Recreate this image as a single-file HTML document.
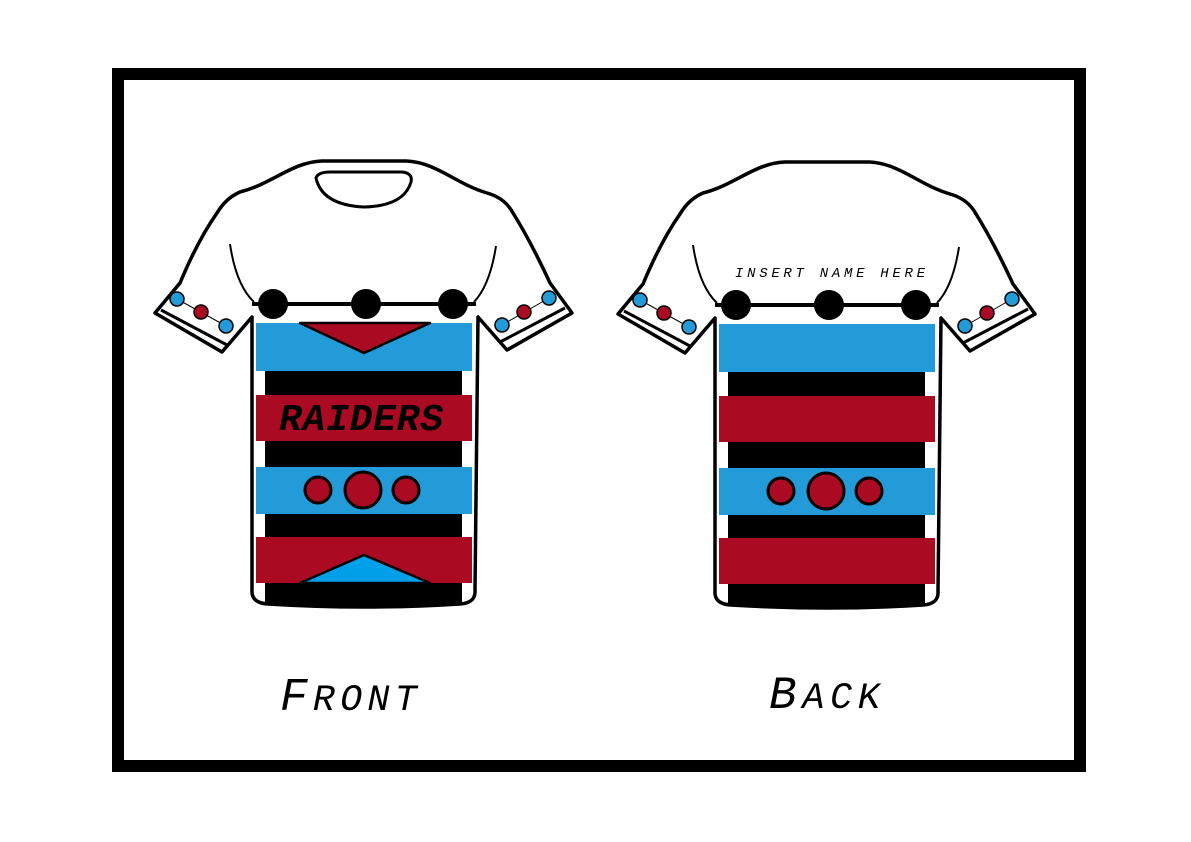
<!DOCTYPE html>
<html><head><meta charset="utf-8"><style>
html,body{margin:0;padding:0;background:#fff;}
svg{display:block;}
</style></head><body>
<svg width="1191" height="842" viewBox="0 0 1191 842" xmlns="http://www.w3.org/2000/svg">
<rect x="0" y="0" width="1191" height="842" fill="#fff"/>
<rect x="118" y="74" width="962" height="692" fill="none" stroke="#000" stroke-width="12"/>

<defs>
<g id="shirtbase">
  <path d="M240 192 C272 184 292 162 322 161 L406 161 C436 162 456 184 487 193 Q505 198 513 213 Q530 240 550 283 L572 313 L507 350 L478 317 L475 590 Q476 603 460 604 Q364 610 268 604 Q251 603 252 590 L252 317 L222 352 L155 313 L180 283 Q198 240 217 213 Q226 198 240 192 Z" fill="#fff" stroke="#000" stroke-width="3.5" stroke-linejoin="round"/>
  <path d="M230 244 Q236 285 254 302" fill="none" stroke="#000" stroke-width="2"/>
  <path d="M496 246 Q490 285 474 302" fill="none" stroke="#000" stroke-width="2"/>
  <line x1="161" y1="310" x2="227" y2="345" stroke="#000" stroke-width="3"/>
  <line x1="565" y1="308" x2="500" y2="342" stroke="#000" stroke-width="3"/>
  <line x1="177" y1="299" x2="226" y2="326" stroke="#000" stroke-width="1"/>
  <line x1="549" y1="298" x2="502" y2="325" stroke="#000" stroke-width="1"/>
  <circle cx="177" cy="299" r="7" fill="#239bd8" stroke="#000" stroke-width="1.5"/>
  <circle cx="201" cy="312" r="7" fill="#aa0a22" stroke="#000" stroke-width="1.5"/>
  <circle cx="226" cy="326" r="7" fill="#239bd8" stroke="#000" stroke-width="1.5"/>
  <circle cx="549" cy="298" r="7" fill="#239bd8" stroke="#000" stroke-width="1.5"/>
  <circle cx="524" cy="312" r="7" fill="#aa0a22" stroke="#000" stroke-width="1.5"/>
  <circle cx="502" cy="325" r="7" fill="#239bd8" stroke="#000" stroke-width="1.5"/>
  <rect x="256" y="323" width="216" height="48" fill="#239bd8"/>
  <rect x="265" y="371" width="197" height="24" fill="#000"/>
  <rect x="256" y="395" width="216" height="46" fill="#aa0a22"/>
  <rect x="265" y="441" width="197" height="26" fill="#000"/>
  <rect x="256" y="467" width="216" height="47" fill="#239bd8"/>
  <rect x="265" y="514" width="197" height="23" fill="#000"/>
  <rect x="256" y="537" width="216" height="46" fill="#aa0a22"/>
  <path d="M265 583 L462 583 L462 604 Q364 609 265 604 Z" fill="#000"/>
  <line x1="252" y1="304" x2="476" y2="304" stroke="#000" stroke-width="4"/>
  <circle cx="273" cy="304" r="15" fill="#000"/>
  <circle cx="366" cy="304" r="15" fill="#000"/>
  <circle cx="453" cy="304" r="15" fill="#000"/>
  <circle cx="318" cy="490" r="13" fill="#aa0a22" stroke="#000" stroke-width="3"/>
  <circle cx="363" cy="490" r="18" fill="#aa0a22" stroke="#000" stroke-width="3"/>
  <circle cx="406" cy="490" r="13" fill="#aa0a22" stroke="#000" stroke-width="3"/>
</g>
</defs>

<use href="#shirtbase"/>
<path d="M316 178 Q318 172 330 172 L402 172 Q413 173 411 182 Q404 206 364 207 Q322 205 316 178 Z" fill="#fff" stroke="#000" stroke-width="3"/>
<path d="M300 323 L430 323 L364 353 Z" fill="#aa0a22" stroke="#000" stroke-width="2.5" stroke-linejoin="round"/>
<path d="M300 583 L430 583 L364 555 Z" fill="#00a0e8" stroke="#000" stroke-width="2.5" stroke-linejoin="round"/>
<text x="279" y="430" font-family="Liberation Mono, monospace" font-style="italic" font-weight="bold" font-size="38" textLength="164" lengthAdjust="spacing" fill="#000">RAIDERS</text>

<g transform="translate(463,1)">
  <use href="#shirtbase"/>
</g>
<text x="735" y="277" font-family="Liberation Mono, monospace" font-style="italic" font-size="14" textLength="190" lengthAdjust="spacing" fill="#000">INSERT NAME HERE</text>

<text x="280" y="710" font-family="Liberation Mono, monospace" font-style="italic" fill="#000" textLength="137" lengthAdjust="spacing"><tspan font-size="46">F</tspan><tspan font-size="37">RONT</tspan></text>
<text x="769" y="708" font-family="Liberation Mono, monospace" font-style="italic" fill="#000" textLength="111" lengthAdjust="spacing"><tspan font-size="46">B</tspan><tspan font-size="37">ACK</tspan></text>
</svg>
</body></html>
